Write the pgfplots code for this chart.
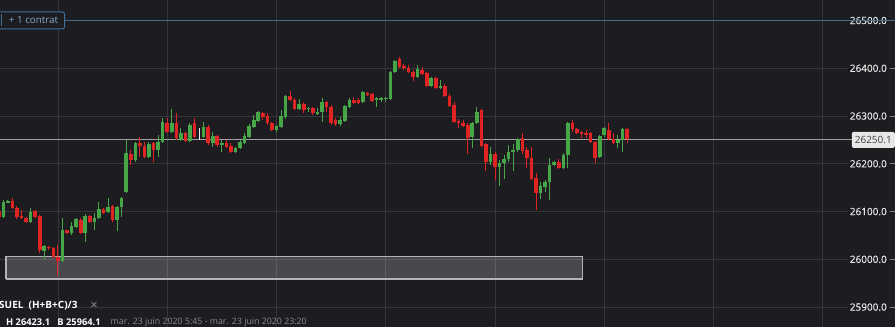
\documentclass[border=0pt]{standalone}
\usepackage{pgfplots}
\pgfplotsset{compat=1.18}
\usepackage{pgfplotstable}
\usepackage{fontspec}
\setmainfont{Open Sans}
\newfontfamily\tickfont[FakeBold=0.5]{Open Sans}
\newfontfamily\symfont{DejaVu Sans}
\definecolor{bg}{HTML}{1C1C21}
\definecolor{gridc}{HTML}{36363B}
\definecolor{cgreen}{HTML}{46A546}
\definecolor{cred}{HTML}{E02424}
\definecolor{cblue}{HTML}{3F6E96}
\definecolor{ctxtblue}{HTML}{86A9C8}
\definecolor{labc}{HTML}{E8E8E8}
\definecolor{pricegray}{HTML}{A0A0A0}
\definecolor{boxc}{HTML}{B4B4B4}
\definecolor{dategray}{HTML}{8C8C8C}

\pgfplotstableread{
i O H L C
0 26089 26124 26087 26120
1 26120 26125 26118 26122
6 26078 26107 26076 26099
9 26017 26030 25999 26028
13 25996 26087 25995 26061
15 26055 26078 26051 26070
16 26068 26087 26066 26084
18 26055 26095 26036 26091
20 26078 26097 26061 26087
21 26087 26120 26085 26105
23 26099 26128 26097 26110
25 26082 26112 26059 26110
26 26110 26130 26089 26128
27 26141 26250 26139 26223
29 26208 26246 26204 26244
32 26214 26246 26212 26241
34 26229 26260 26214 26246
35 26246 26296 26244 26288
37 26267 26315 26264 26285
39 26250 26275 26248 26264
41 26248 26285 26246 26281
44 26256 26288 26254 26277
46 26244 26267 26235 26258
48 26239 26250 26225 26244
51 26225 26235 26222 26233
52 26233 26250 26231 26246
53 26244 26264 26241 26258
54 26256 26283 26254 26279
55 26277 26302 26275 26292
56 26290 26310 26288 26308
60 26271 26281 26267 26279
61 26277 26313 26275 26300
62 26298 26344 26294 26342
65 26315 26336 26313 26325
67 26315 26319 26308 26317
69 26306 26317 26302 26308
70 26308 26338 26288 26329
74 26283 26298 26279 26292
75 26290 26323 26288 26321
76 26319 26338 26317 26334
79 26329 26352 26327 26350
82 26334 26340 26319 26338
83 26334 26340 26329 26338
84 26336 26340 26329 26338
85 26336 26394 26334 26392
86 26392 26417 26390 26415
91 26382 26407 26380 26399
94 26363 26382 26361 26380
96 26359 26376 26357 26363
103 26256 26288 26233 26285
104 26285 26319 26283 26308
107 26204 26235 26198 26221
109 26193 26208 26154 26202
110 26202 26218 26168 26210
111 26210 26239 26204 26225
112 26225 26241 26185 26229
113 26229 26254 26225 26252
118 26139 26162 26126 26154
119 26152 26166 26141 26162
120 26162 26212 26124 26198
121 26198 26206 26195 26204
123 26191 26223 26189 26218
124 26218 26288 26191 26285
131 26214 26260 26212 26258
132 26260 26277 26256 26275
135 26244 26260 26233 26250
136 26250 26275 26225 26273
}\greendata

\pgfplotstableread{
i O H L C
-1 26101 26105 26084 26089
2 26122 26128 26105 26107
3 26107 26112 26084 26089
4 26091 26103 26084 26087
5 26087 26089 26076 26078
7 26101 26103 26087 26089
8 26091 26092 26013 26020
10 26026 26027 26020 26024
11 26024 26025 26003 26005
12 26005 26030 25964.1 25996
14 26061 26062 26053 26055
17 26082 26087 26053 26055
19 26091 26093 26076 26078
22 26105 26107 26095 26097
24 26112 26114 26078 26082
28 26221 26229 26198 26208
30 26244 26256 26214 26237
31 26237 26246 26212 26214
33 26244 26246 26204 26229
36 26285 26296 26264 26267
38 26285 26306 26250 26254
40 26264 26267 26246 26248
42 26285 26296 26254 26256
45 26277 26281 26239 26244
47 26258 26260 26235 26239
49 26244 26250 26233 26235
50 26237 26244 26223 26225
57 26306 26308 26292 26298
58 26300 26306 26281 26285
59 26285 26288 26269 26271
63 26342 26352 26332 26334
64 26334 26338 26313 26315
66 26325 26329 26306 26313
68 26317 26319 26302 26306
71 26329 26331 26308 26319
72 26319 26323 26281 26285
73 26292 26296 26279 26283
77 26334 26340 26325 26327
78 26334 26338 26325 26327
80 26348 26350 26342 26344
81 26346 26348 26329 26332
87 26419 26423.1 26401 26403
88 26405 26409 26396 26401
89 26401 26407 26390 26392
90 26392 26396 26373 26382
92 26396 26403 26386 26388
93 26390 26392 26361 26363
95 26380 26382 26357 26359
97 26363 26367 26340 26342
98 26342 26346 26319 26321
99 26323 26329 26286 26288
100 26290 26294 26275 26285
101 26285 26292 26277 26279
102 26281 26285 26221 26254
105 26313 26315 26235 26237
106 26241 26244 26185 26204
108 26221 26225 26166 26193
114 26254 26264 26221 26227
115 26229 26235 26191 26212
116 26212 26235 26166 26168
117 26170 26181 26103 26139
122 26204 26210 26189 26191
125 26285 26292 26267 26273
126 26273 26275 26262 26264
127 26267 26269 26254 26262
128 26264 26271 26254 26262
129 26264 26267 26244 26246
130 26246 26248 26202 26212
133 26271 26285 26250 26252
134 26252 26264 26241 26244
137 26273 26275 26244 26252
}\reddata

\pgfplotstableread{
i O H L C
43 26256 26275 26250 26258
}\whitedata

\begin{document}
\begin{tikzpicture}[x=1pt,y=1pt]
\useasboundingbox (0,0) rectangle (895,327);
\fill[bg] (0,0) rectangle (895,327);
\begin{axis}[
  at={(0,0)}, anchor=south west,
  scale only axis, width=895pt, height=327pt,
  xmin=-0.725, xmax=195.85, ymin=25858.3, ymax=26543,
  axis line style={draw=none},
  xtick={12,36,60,84,108,132,156,180}, xticklabels={},
  xmajorgrids, ymajorgrids,
  grid style={draw=gridc, line width=0.8pt},
  ytick={25900,26000,26100,26200,26300,26400,26500},
  yticklabels={25900.0,26000.0,26100.0,26200.0,26300.0,26400.0,26500.0},
  ytick pos=right, tick align=inside, major tick length=5pt,
  ytick style={draw=gridc!60!white, line width=0.8pt},
  xtick style={draw=none},
  yticklabel style={anchor=east, xshift=-6pt, fill=bg, inner sep=2pt, text=labc,
    font=\tickfont\fontsize{10}{12}\selectfont},
  clip=true,
]
% reference levels
\addplot[cblue, line width=1pt, forget plot] coordinates {(-2,26500) (200,26500)};
\addplot[pricegray, line width=0.9pt, forget plot] coordinates {(-2,26250.1) (200,26250.1)};
% zone rectangle
\addplot[fill=white, fill opacity=0.2, draw=boxc, draw opacity=1, line width=1.2pt, forget plot]
  coordinates {(0.59,25959) (127.3,25959) (127.3,26006) (0.59,26006) (0.59,25959)};
% green candles
\addplot[draw=none, mark=none, forget plot,
  error bars/.cd, y dir=both, y explicit, error mark=none,
  error bar style={draw=cgreen, line width=1pt}]
  table[x=i, y expr={(\thisrow{H}+\thisrow{L})/2}, y error expr={(\thisrow{H}-\thisrow{L})/2}] {\greendata};
\addplot[draw=none, mark=none, forget plot,
  error bars/.cd, y dir=both, y explicit, error mark=none,
  error bar style={draw=cgreen, line width=3.6pt}]
  table[x=i, y expr={(\thisrow{O}+\thisrow{C})/2}, y error expr={max(abs(\thisrow{C}-\thisrow{O})/2,1.1)}] {\greendata};
% red candles
\addplot[draw=none, mark=none, forget plot,
  error bars/.cd, y dir=both, y explicit, error mark=none,
  error bar style={draw=cred, line width=1pt}]
  table[x=i, y expr={(\thisrow{H}+\thisrow{L})/2}, y error expr={(\thisrow{H}-\thisrow{L})/2}] {\reddata};
\addplot[draw=none, mark=none, forget plot,
  error bars/.cd, y dir=both, y explicit, error mark=none,
  error bar style={draw=cred, line width=3.6pt}]
  table[x=i, y expr={(\thisrow{O}+\thisrow{C})/2}, y error expr={max(abs(\thisrow{C}-\thisrow{O})/2,1.1)}] {\reddata};
% white marker candle
\addplot[draw=none, mark=none, forget plot,
  error bars/.cd, y dir=both, y explicit, error mark=none,
  error bar style={draw=white!85!gray, line width=0.9pt}]
  table[x=i, y expr={(\thisrow{H}+\thisrow{L})/2}, y error expr={(\thisrow{H}-\thisrow{L})/2}] {\whitedata};
% current price label
\node[anchor=east, fill=white!82!gray, text=black!75, rounded corners=1.5pt,
  inner xsep=3pt, minimum height=16pt, font=\fontsize{10}{12}\selectfont]
  at (axis cs:195.85,26250.1) {26250.1};
\end{axis}
% "+ 1 contrat" tag
\draw[cblue, line width=1pt, fill=bg, rounded corners=2pt] (-10,298) rectangle (64.5,315);
\draw[cblue, line width=1pt] (1.8,300.5) -- (1.8,312.5);
\node[text=ctxtblue, font=\fontsize{9.8}{11}\selectfont, anchor=center] at (33.5,306.5) {+ 1 contrat};
% bottom legend texts
\node[anchor=west, inner sep=0pt, text=white, font=\bfseries\fontsize{10}{11}\selectfont] at (-1,21) {SUEL\ \ (H+B+C)/3};
\node[anchor=center, inner sep=0pt, text=dategray, font=\symfont\fontsize{9.5}{10}\selectfont] at (94,21.5) {✕};
\node[anchor=west, inner sep=0pt, text=white, font=\bfseries\fontsize{9.3}{10}\selectfont] at (6,4.5) {H 26423.1\ \ \ B 25964.1};
\node[anchor=west, inner sep=0pt, text=dategray, font=\fontsize{8.8}{10}\selectfont] at (110.5,4.5) {mar. 23 juin 2020 5:45 - mar. 23 juin 2020 23:20};
\end{tikzpicture}
\end{document}
